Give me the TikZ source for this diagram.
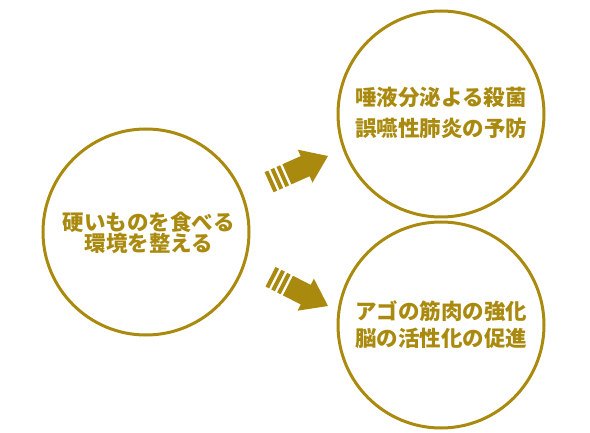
\documentclass[tikz,border=0pt]{standalone}
\usepackage{fontspec}
\newfontfamily\jp{Noto Sans CJK JP Black}
\definecolor{gold}{RGB}{170,138,14}
\tikzset{
  ring/.style={draw=gold, line width=3pt},
  lbl/.style={text=gold, font=\jp\fontsize{21.5}{21.5}\selectfont, inner sep=0pt, anchor=center},
  arrowfill/.style={fill=gold, draw=none}
}
\begin{document}
\begin{tikzpicture}[x=1pt,y=-1pt]
\useasboundingbox (0,0) rectangle (590,433);
\node[ring, circle, minimum size=206pt, inner sep=0pt] (L) at (146,232) {};
\node[ring, circle, minimum size=206pt, inner sep=0pt] (TR) at (441,114) {};
\node[ring, circle, minimum size=206pt, inner sep=0pt] (BR) at (441,325) {};
\node[lbl] (l1) at (149,222) {硬いものを食べる};
\node[lbl] (l2) at (149,243) {環境を整える};
\node[lbl] (t1) at (441,97) {唾液分泌よる殺菌};
\node[lbl] (t2) at (441,128) {誤嚥性肺炎の予防};
\node[lbl] (b1) at (441,311) {アゴの筋肉の強化};
\node[lbl] (b2) at (441,338) {脳の活性化の促進};
% top arrow
\begin{scope}[shift={(328,156)}, rotate=24]
  \fill[arrowfill] (0,0) -- (-25,-18) -- (-25,-11) -- (-45,-11) -- (-45,11) -- (-25,11) -- (-25,18) -- cycle;
  \fill[arrowfill] (-47.5,-11) rectangle (-51.5,11);
  \fill[arrowfill] (-54,-11) rectangle (-58,11);
  \fill[arrowfill] (-60.5,-11) rectangle (-64.5,11);
\end{scope}
% bottom arrow
\begin{scope}[shift={(328,306)}, rotate=-27]
  \fill[arrowfill] (0,0) -- (-25,-18) -- (-25,-11) -- (-45,-11) -- (-45,11) -- (-25,11) -- (-25,18) -- cycle;
  \fill[arrowfill] (-47.5,-11) rectangle (-51.5,11);
  \fill[arrowfill] (-54,-11) rectangle (-58,11);
  \fill[arrowfill] (-60.5,-11) rectangle (-64.5,11);
\end{scope}
\end{tikzpicture}
\end{document}
